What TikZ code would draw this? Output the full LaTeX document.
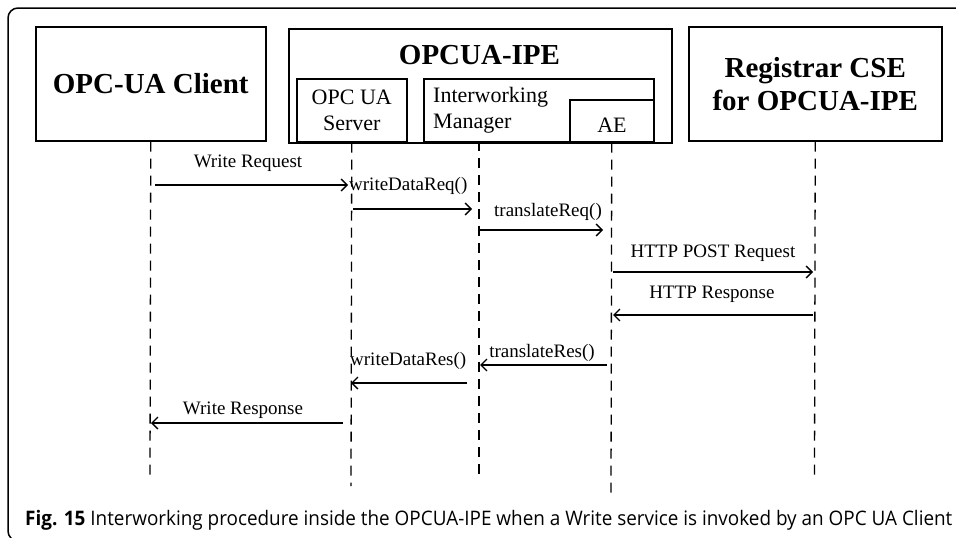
\documentclass[tikz,border=0pt]{standalone}
\usepackage{fontspec}
\setmainfont{Liberation Serif}
\newfontfamily\capfont[FakeStretch=0.945]{Open Sans}
\usetikzlibrary{arrows.meta}
\begin{document}
\begin{tikzpicture}[x=1pt,y=-1pt,
  box/.style={draw, line width=1.5pt, inner sep=0, anchor=north west},
  life/.style={line width=1.3pt, dash pattern=on 10pt off 7pt},
  msg/.style={line width=1.3pt, -{Straight Barb[length=6pt,width=12pt]}},
  lbl/.style={font=\fontsize{19}{20}\selectfont, inner sep=0},
  big/.style={font=\fontsize{29}{33}\selectfont\bfseries, align=center},
  small/.style={font=\fontsize{22}{26}\selectfont, inner sep=0}]
\useasboundingbox (0,0) rectangle (956,538);
% outer frame
\draw[line width=1.5pt, rounded corners=10pt] (960,8) -- (8,8) -- (8,541) -- (40,541);
% participants
\node[box, minimum width=230pt, minimum height=114pt, big] (client) at (35,26) {OPC-UA Client};
\node[box, minimum width=383pt, minimum height=114pt] (ipe) at (288,28) {};
\node[big, inner sep=0] (ipet) at (479.5,55) {OPCUA-IPE};
\node[box, minimum width=110pt, minimum height=63pt, small, align=center] (server) at (296,78) {OPC UA\\Server};
\node[box, minimum width=230pt, minimum height=63pt] (mgr) at (423,78) {};
\node[small, align=left, anchor=west] (mgrt) at (433,110) {Interworking\\Manager};
\node[box, minimum width=84pt, minimum height=42pt] (ae) at (569,99) {};
\node[small] (aet) at (612,125) {AE};
\node[box, minimum width=253pt, minimum height=114pt, big] (reg) at (688,26) {Registrar CSE\\for OPCUA-IPE};
% lifelines
\coordinate (clb) at (150,477);
\coordinate (svb) at (351,486);
\coordinate (mgt) at (479,141);
\coordinate (mgb) at (479,478);
\coordinate (aeb) at (611,494);
\coordinate (rgb) at (814.5,476);
\draw[life] (client.south) -- (clb);
\draw[life] (server.south) -- (svb);
\draw[life] (mgt) -- (mgb);
\draw[life] (ae.south) -- (aeb);
\draw[life] (reg.south) -- (rgb);
% messages
\coordinate (m1a) at (155,185); \coordinate (m1b) at (348,185);
\coordinate (m2a) at (353,209); \coordinate (m2b) at (472,209);
\coordinate (m3a) at (479,230); \coordinate (m3b) at (603,230);
\coordinate (m4a) at (613,272); \coordinate (m4b) at (813,272);
\coordinate (m5a) at (813,315); \coordinate (m5b) at (613,315);
\coordinate (m6a) at (607,365); \coordinate (m6b) at (480,365);
\coordinate (m7a) at (467,383); \coordinate (m7b) at (351,383);
\coordinate (m8a) at (343,423); \coordinate (m8b) at (151,423);
\draw[msg] (m1a) -- (m1b);
\draw[msg] (m2a) -- (m2b);
\draw[msg] (m3a) -- (m3b);
\draw[msg] (m4a) -- (m4b);
\draw[msg] (m5a) -- (m5b);
\draw[msg] (m6a) -- (m6b);
\draw[msg] (m7a) -- (m7b);
\draw[msg] (m8a) -- (m8b);
% labels
\node[lbl] (l1) at (248,163) {Write Request};
\node[lbl, anchor=west] (l2) at (349,186) {writeDataReq()};
\node[lbl] (l3) at (548,212) {translateReq()};
\node[lbl] (l4) at (713,253) {HTTP POST Request};
\node[lbl] (l5) at (712,294) {HTTP Response};
\node[lbl] (l6) at (542,353) {translateRes()};
\node[lbl, anchor=west] (l7) at (350,361) {writeDataRes()};
\node[lbl] (l8) at (243,410) {Write Response};
% caption
\node[anchor=base west, inner sep=0] (cap) at (25,525) {\capfont\fontsize{20}{22}\selectfont\bfseries Fig. 15 \mdseries Interworking procedure inside the OPCUA-IPE when a Write service is invoked by an OPC UA Client};
\end{tikzpicture}
\end{document}
